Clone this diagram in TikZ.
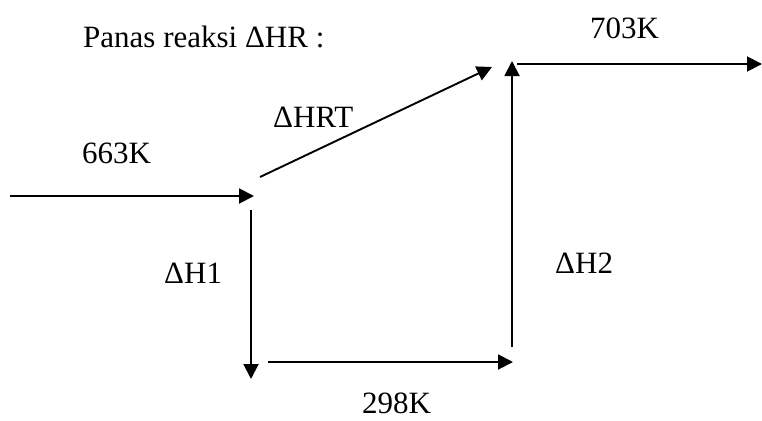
\documentclass[tikz,border=0pt]{standalone}
\usepackage{fontspec}
\setmainfont{Liberation Serif}
\usetikzlibrary{arrows.meta}
\begin{document}
\begin{tikzpicture}[x=1pt,y=-1pt,
  flow/.style={line width=1.9pt,-{Triangle[length=15pt,width=15pt]}},
  lbl/.style={anchor=base west,inner sep=0pt,font=\fontsize{31}{37}\selectfont}]
\useasboundingbox (0,0) rectangle (762,420);
% end points of the enthalpy path
\coordinate (inA) at (10,196);
\coordinate (inB) at (254,196);
\coordinate (rtA) at (260,177);
\coordinate (rtB) at (492,67);
\coordinate (h1A) at (251,210);
\coordinate (h1B) at (251,379);
\coordinate (lowA) at (268,362);
\coordinate (lowB) at (513,362);
\coordinate (h2A) at (512,347);
\coordinate (h2B) at (512,61);
\coordinate (outA) at (517,64);
\coordinate (outB) at (762,64);
% arrows
\draw[flow] (inA) -- (inB);
\draw[flow] (rtA) -- (rtB);
\draw[flow] (h1A) -- (h1B);
\draw[flow] (lowA) -- (lowB);
\draw[flow] (h2A) -- (h2B);
\draw[flow] (outA) -- (outB);
% labels
\node[lbl] (title) at (83,48) {Panas reaksi ΔHR :};
\node[lbl] (t703) at (590,39) {703K};
\node[lbl] (hrt) at (273,127) {ΔHRT};
\node[lbl] (t663) at (82,163) {663K};
\node[lbl] (h1) at (164,283) {ΔH1};
\node[lbl] (h2) at (555,273) {ΔH2};
\node[lbl] (t298) at (362,413) {298K};
\end{tikzpicture}
\end{document}
